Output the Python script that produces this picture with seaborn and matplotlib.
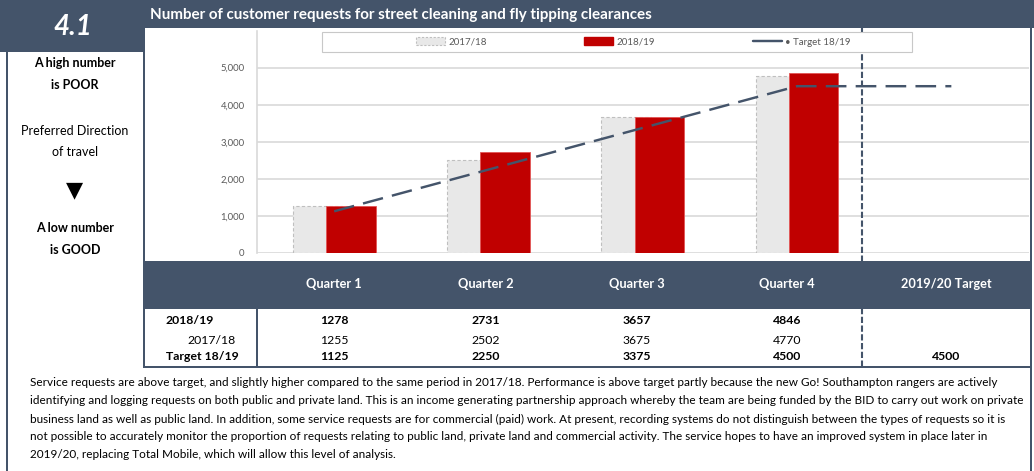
import numpy as np
import pandas as pd
import matplotlib
matplotlib.use("Agg")
import matplotlib.pyplot as plt
import seaborn as sns
from matplotlib.patches import Rectangle, Patch
from matplotlib.lines import Line2D
from matplotlib.ticker import FuncFormatter

# ---------------- data ----------------
quarters = ["Quarter 1", "Quarter 2", "Quarter 3", "Quarter 4"]
table_cols = ["Quarter 1", "Quarter 2", "Quarter 3", "Quarter 4", "2019/20 Target"]
v2018 = [1278, 2731, 3657, 4846]
v2017 = [1255, 2502, 3675, 4770]
target_1819 = [1125, 2250, 3375, 4500]
target_1920 = 4500
yticks = [0, 1000, 2000, 3000, 4000, 5000]
row_labels = ["2018/19", "2017/18", "Target 18/19"]
legend_labels = ["2017/18", "2018/19", "\u2022 Target 18/19"]
title = "Number of customer requests for street cleaning and fly tipping clearances"
section = "4.1"
left_lines = [("A high number", "bold"), ("is POOR", "bold"),
              ("Preferred Direction", "normal"), ("of travel", "normal"),
              ("A low number", "bold"), ("is GOOD", "bold")]
paragraph = [
    "Service requests are above target, and slightly higher compared to the same period in 2017/18. Performance is above target partly because the new Go! Southampton rangers are actively",
    "identifying and logging requests on both public and private land. This is an income generating partnership approach whereby the team are being funded by the BID to carry out work on private",
    "business land as well as public land. In addition, some service requests are for commercial (paid) work. At present, recording systems do not distinguish between the types of requests so it is",
    "not possible to accurately monitor the proportion of requests relating to public land, private land and commercial activity. The service hopes to have an improved system in place later in",
    "2019/20, replacing Total Mobile, which will allow this level of analysis.",
]

# ---------------- style ----------------
W, H = 1034, 471
DARK = "#44546A"
RED = "#C00000"
GREY = "#E8E8E8"
sns.set_theme(style="white")
plt.rcParams['font.family'] = ['Lato', 'DejaVu Sans']

fig = plt.figure(figsize=(W / 100, H / 100), dpi=100)
fig.patch.set_facecolor("white")


def fx(x):
    return x / W


def fy(y):
    return 1 - y / H


def rect(x0, y0, x1, y1, fc, z=-5, ec="none", lw=0):
    fig.add_artist(Rectangle((fx(x0), fy(y1)), (x1 - x0) / W, (y1 - y0) / H,
                             transform=fig.transFigure, facecolor=fc,
                             edgecolor=ec, linewidth=lw, zorder=z))


# background blocks / borders
rect(0, 0, 143, 52, DARK)            # section box
rect(143, 0, W, 28, DARK)            # title header
rect(143, 28, 145, 368, DARK)        # chart/table left border
rect(1030, 28, 1032, H, DARK)        # right border
rect(6, 52, 8, H, DARK)              # left border
rect(143, 261, 1032, 309, DARK)      # table header band
rect(143, 366, 1032, 368, DARK)      # table bottom line
rect(256, 309, 258, 366, DARK)       # table first column separator

# vertical dashed separator
fig.add_artist(Line2D([fx(862), fx(862)], [fy(28), fy(366)], transform=fig.transFigure,
                      color=DARK, lw=1.5, linestyle=(0, (3, 1.2)), zorder=3))

# ---------------- chart ----------------
ax = fig.add_axes([fx(257), fy(253), (1028.5 - 257) / W, (253 - 30.6) / H])
ax.set_facecolor("none")
pos = np.arange(len(quarters))
df = pd.DataFrame({"pos": pos, "v2017": v2017, "v2018": v2018})

sns.barplot(x=df["pos"] - 0.108, y=df["v2017"], native_scale=True, width=0.32,
            color=GREY, saturation=1, edgecolor="#BFBFBF", linewidth=0.8,
            linestyle=(0, (3, 2)), errorbar=None, ax=ax, zorder=2)
sns.barplot(x=df["pos"] + 0.108, y=df["v2018"], native_scale=True, width=0.32,
            color=RED, saturation=1, edgecolor="#E25555", linewidth=0.6,
            errorbar=None, ax=ax, zorder=3)
tx = np.arange(len(target_1819) + 1)
ty = target_1819 + [target_1920]
sns.lineplot(x=tx, y=ty, color=DARK, linewidth=1.75, ax=ax, zorder=4)
ax.lines[-1].set_linestyle((0, (8.5, 3.8)))
ax.lines[-1].set_dash_capstyle("butt")

ax.set_xlim(-0.5, 4.5)
ax.set_ylim(0, 6000)
ax.set_xticks([])
ax.set_xlabel("")
ax.set_ylabel("")
ax.set_yticks(yticks)
ax.yaxis.set_major_formatter(FuncFormatter(lambda v, p: f"{int(v):,}"))
ax.tick_params(axis="y", length=0, pad=9, labelsize=6.8, labelcolor="#595959")
ax.grid(axis="y", color="#D9D9D9", linewidth=1.2)
ax.set_axisbelow(True)
for s in ["top", "right", "bottom"]:
    ax.spines[s].set_visible(False)
ax.spines["left"].set_color("#D9D9D9")
ax.spines["left"].set_linewidth(1.2)

# legend
rect(322, 32, 912, 52, "white", z=4, ec="#C8C8C8", lw=0.8)
handles = [Patch(facecolor=GREY, edgecolor="#BFBFBF", linestyle=(0, (2, 1.5)), linewidth=0.8),
           Patch(facecolor=RED, edgecolor=RED),
           Line2D([0], [0], color=DARK, lw=1.75)]
leg = fig.legend(handles, legend_labels, loc="center left", bbox_to_anchor=(fx(416), fy(42)),
                 ncol=3, frameon=False, fontsize=7, handlelength=3, handleheight=0.8,
                 handletextpad=0.35, columnspacing=10, borderpad=0, borderaxespad=0)
for t in leg.get_texts():
    t.set_color("#595959")

# ---------------- texts ----------------
renderer = fig.canvas.get_renderer()


def fit(t, target_px):
    w = t.get_window_extent(renderer).width
    t.set_fontsize(t.get_fontsize() * target_px / w)
    return t.get_fontsize()


fig.text(fx(73), fy(27), section, ha="center", va="center", fontsize=20,
         fontstyle="italic", fontweight="bold", color="white")
tt = fig.text(fx(150), fy(15), title, ha="left", va="center", fontsize=10,
              fontweight="bold", color="white")
fit(tt, 505)

left_y = [63, 85, 131, 152, 228, 250]
for (txt, wgt), yy in zip(left_lines, left_y):
    fig.text(fx(75), fy(yy), txt, ha="center", va="center", fontsize=9,
             fontweight=wgt, color="black")
fig.text(fx(75), fy(190), "\u25BC", ha="center", va="center", fontsize=16,
         family="DejaVu Sans", color="black")

col_x = [334, 486, 637, 787, 946]
for c, xx in zip(table_cols, col_x):
    fig.text(fx(xx), fy(284), c, ha="center", va="center", fontsize=9.2,
             fontweight="bold", color="white")

row_y = [320, 340, 357]
row_x = [166, 187, 166]
row_w = ["bold", "normal", "bold"]
rows = [v2018, v2017, target_1819]
for lab, xx, yy, wgt, vals in zip(row_labels, row_x, row_y, row_w, rows):
    fig.text(fx(xx), fy(yy), lab, ha="left", va="center", fontsize=8.8,
             fontweight=wgt, color="black")
    for v, cx in zip(vals, col_x):
        fig.text(fx(cx), fy(yy), str(v), ha="center", va="center", fontsize=8.8,
                 fontweight=wgt, color="black")
fig.text(fx(col_x[4]), fy(row_y[2]), str(target_1920), ha="center", va="center",
         fontsize=8.8, fontweight="bold", color="black")

ptexts = []
for i, line in enumerate(paragraph):
    ptexts.append(fig.text(fx(30), fy(383 + 18 * i), line, ha="left", va="center",
                           fontsize=8, color="black"))
fs = fit(ptexts[0], 962)
for t in ptexts[1:]:
    t.set_fontsize(fs)

fig.savefig("out.png", dpi=100)
